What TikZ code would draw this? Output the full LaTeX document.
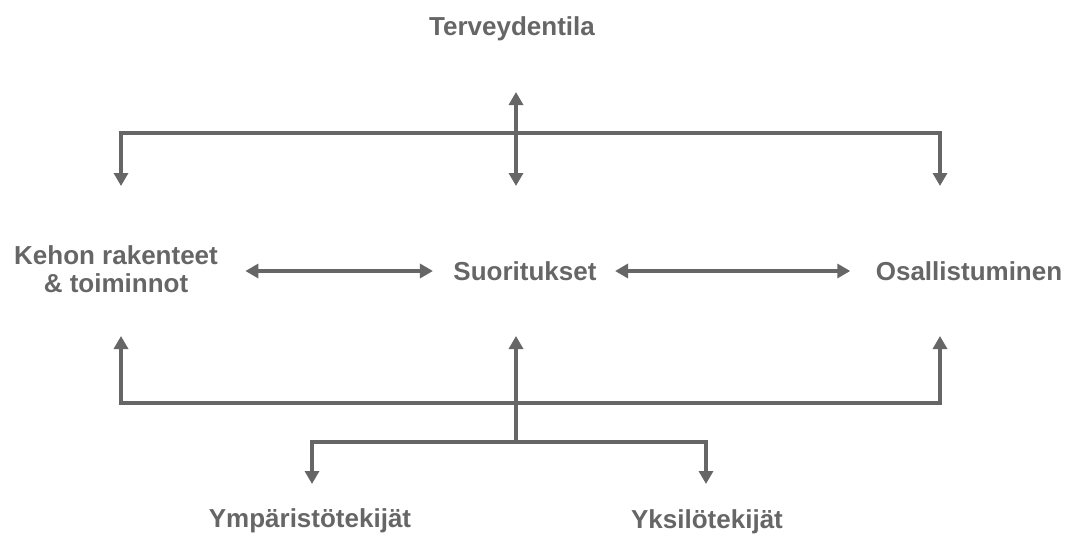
\documentclass[tikz,border=0pt]{standalone}
\usepackage{fontspec}
\setmainfont{Liberation Sans}
\usetikzlibrary{arrows.meta}
\definecolor{icfgray}{HTML}{666666}

\begin{document}
\begin{tikzpicture}[x=1pt,y=-1pt,
		label/.style={font=\bfseries\fontsize{26}{28}\selectfont,text=icfgray,align=center},
		link/.style={draw=icfgray,line width=3.5pt},
		tip/.style={link,-{Triangle[width=14pt,length=13pt]}},
		both/.style={link,{Triangle[width=14pt,length=13pt]}-{Triangle[width=14pt,length=13pt]}}]
		
		\useasboundingbox (0,0) rectangle (1074,533);
		
		% Labels
		\node[label] (terv) at (512,29) {Terveydentila};
		\node[label] (keho) at (116,269) {Kehon rakenteet\\\& toiminnot};
		\node[label] (suor) at (525,271) {Suoritukset};
		\node[label] (osal) at (969,271) {Osallistuminen};
		\node[label, inner sep=0pt] (ymp) at (310,521) {Ympäristötekijät};
		\node[label, inner sep=0pt] (yks) at (707,522) {Yksilötekijät};
		
		% Junctions and arrow ends
		\coordinate (tj) at (516,133);
		\coordinate (bj) at (516,403);
		\coordinate (ej) at (516,442);
		\coordinate (tervend) at (516,92);
		\coordinate (kehotop) at (121,186);
		\coordinate (kehobot) at (121,336);
		\coordinate (suortop) at (516,186);
		\coordinate (suorbot) at (516,336);
		\coordinate (osaltop) at (940,186);
		\coordinate (osalbot) at (940,336);
		\coordinate (ympend) at (312,484);
		\coordinate (yksend) at (706,484);
		
		% Upper bracket
		\draw[both] (kehotop) |- (tj) -| (osaltop);
		\draw[both] (tervend) -- (suortop);
		
		% Middle row
		\draw[both, shorten <=24pt, shorten >=17pt] (keho.east |- suor.west) -- (suor.west);
		\draw[both, shorten <=15pt, shorten >=22pt] (suor.east) -- (osal.west);
		
		% Lower bracket
		\draw[both] (kehobot) |- (bj) -| (osalbot);
		\draw[tip] (ej) -- (suorbot);
		\draw[both] (ympend) |- (ej) -| (yksend);
	\end{tikzpicture}
\end{document}
